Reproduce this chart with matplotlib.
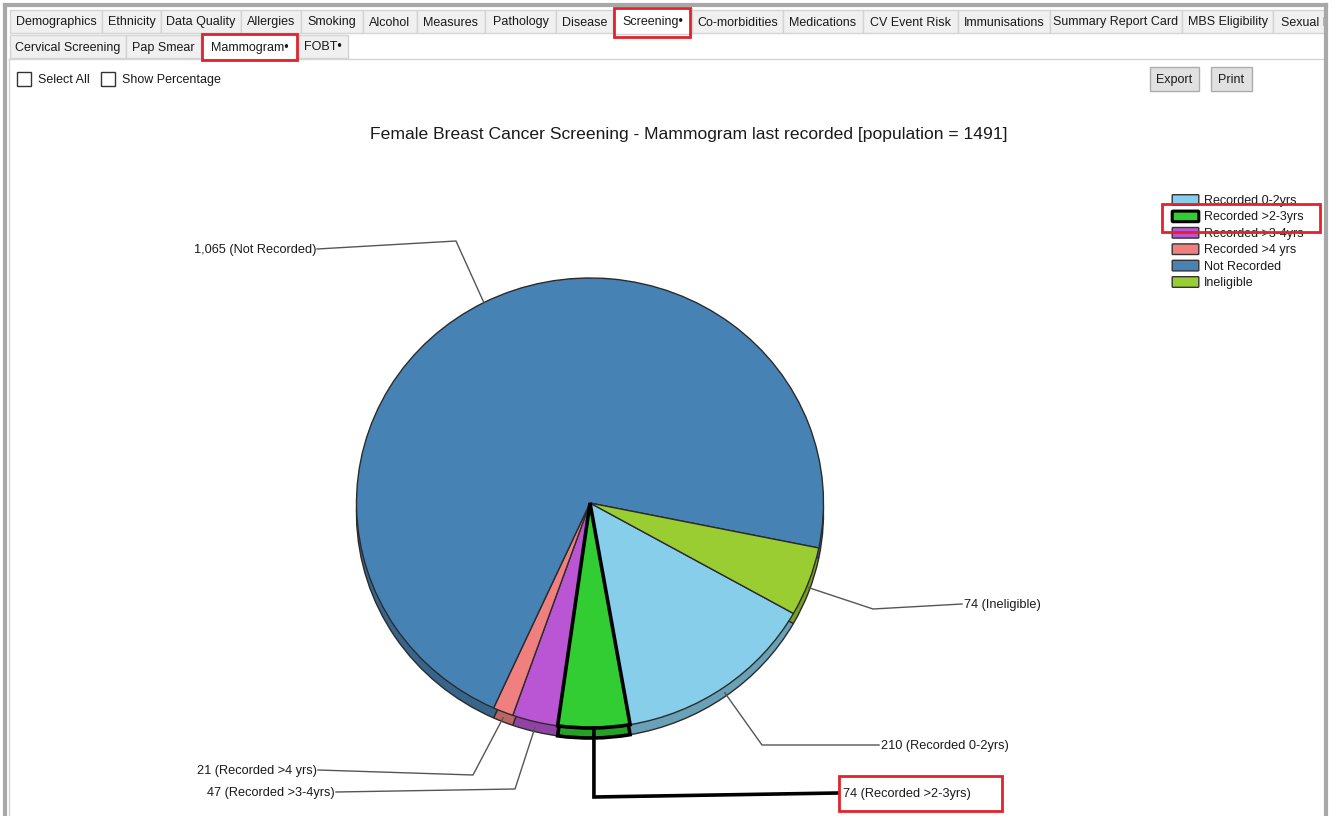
"""
Mammogram screening pie chart, redrawn with its tabbed window frame.
Output: out.png (1338 x 816 px)
"""

import numpy as np
import matplotlib
matplotlib.use('Agg')
import matplotlib.pyplot as plt
import matplotlib.transforms as mtransforms
from matplotlib.patches import Rectangle, FancyBboxPatch
from matplotlib.colors import to_rgb

plt.rcParams['font.family'] = ['Liberation Sans', 'DejaVu Sans']

# ── Data ─────────────────────────────────────────────────────────────────────
categories = ['Recorded 0-2yrs', 'Recorded >2-3yrs', 'Recorded >3-4yrs',
              'Recorded >4 yrs', 'Not Recorded', 'Ineligible']
counts = [210, 74, 47, 21, 1065, 74]
slice_colors = ['#87CEEB', '#32CD32', '#BA55D3', '#F08080', '#4682B4', '#9ACD32']
highlight = 'Recorded >2-3yrs'

row1_tabs = ['Demographics', 'Ethnicity', 'Data Quality', 'Allergies', 'Smoking',
             'Alcohol', 'Measures', 'Pathology', 'Disease', 'Screening\u2022',
             'Co-morbidities', 'Medications', 'CV Event Risk', 'Immunisations',
             'Summary Report Card', 'MBS Eligibility', 'Sexual H']
row2_tabs = ['Cervical Screening', 'Pap Smear', 'Mammogram\u2022', 'FOBT\u2022']

# ── Layout (pixels) ──────────────────────────────────────────────────────────
W, H = 1338, 816
row1_edges = [10, 102, 161, 241, 301, 363, 417, 485, 556, 613, 692, 783, 863,
              958, 1050, 1182, 1273, 1340]
row2_edges = [10, 126, 201, 298, 348]
CX, CY = 590, 503
RX, RY = 233.5, 225
DEPTH = 10
START = 29.4
DY = 1.0          # nudge so text sits optically centred

TEXT = '#1a1a1a'
RED = '#e3222b'
TAB_FILL = '#f0f0f0'
TAB_EDGE = '#d4d4d4'

# leader: elbow point, text anchor, alignment
leader_layout = {
    'Recorded 0-2yrs':  ((762, 745), (879, 745), 'left'),
    'Recorded >2-3yrs': (None,       (841, 793), 'left'),
    'Recorded >3-4yrs': ((515, 789), (336, 792), 'right'),
    'Recorded >4 yrs':  ((473, 775), (318, 770), 'right'),
    'Not Recorded':     ((456, 241), (317, 249), 'right'),
    'Ineligible':       ((873, 609), (962, 604), 'left'),
}

fig = plt.figure(figsize=(W / 100, H / 100), dpi=100)
fig.patch.set_facecolor('white')
ax = fig.add_axes([0, 0, 1, 1])


def darker(c, f=0.78):
    r, g, b = to_rgb(c)
    return (r * f, g * f, b * f)


# ── Pie (3D look: darker copy shifted down, then top face) ───────────────────
shadow, _ = ax.pie(counts, colors=[darker(c) for c in slice_colors],
                   startangle=START, counterclock=True, radius=RX,
                   center=(CX, CY + DEPTH), frame=True,
                   wedgeprops=dict(edgecolor='#2b2b2b', linewidth=1.0))
top, _ = ax.pie(counts, colors=slice_colors, startangle=START,
                counterclock=True, radius=RX, center=(CX, CY), frame=True,
                wedgeprops=dict(edgecolor='#2b2b2b', linewidth=1.0))

for wedges, cy, z in ((shadow, CY + DEPTH, 2), (top, CY, 3)):
    tr = (mtransforms.Affine2D().translate(-CX, -cy).scale(1, RY / RX)
          .translate(CX, cy) + ax.transData)
    for w, name in zip(wedges, categories):
        w.set_transform(tr)
        w.set_zorder(z)
        if name == highlight:
            w.set_edgecolor('black')
            w.set_linewidth(2.6)
            w.set_zorder(z + 0.5)

# ── Leader lines and labels ──────────────────────────────────────────────────
for w, name, n in zip(top, categories, counts):
    t = np.deg2rad((w.theta1 + w.theta2) / 2)
    sx, sy = CX + RX * np.cos(t), CY + RY * np.sin(t)
    elbow, (lx, ly), ha = leader_layout[name]
    label = f'{n:,} ({name})'
    if name == highlight:
        xs, ys = [sx, sx, lx - 3], [sy, 797, ly]
        ax.plot(xs, ys, color='black', lw=2.6, zorder=6,
                solid_joinstyle='miter')
    else:
        if sy > CY:
            sy += DEPTH * 0.6
        xs, ys = [sx, elbow[0], lx], [sy, elbow[1], ly]
        ax.plot(xs, ys, color='#555555', lw=1.0, zorder=6)
    ax.text(lx + (2 if ha == 'left' else -1), ly + DY, label, ha=ha,
            va='center', fontsize=9.2, color=TEXT, zorder=7)

# highlight box around the >2-3yrs label
ax.add_patch(Rectangle((839, 776), 163, 35, fill=False, edgecolor=RED,
                       lw=2, zorder=8))

# ── Title ────────────────────────────────────────────────────────────────────
ax.text(689, 133 + DY,
        f'Female Breast Cancer Screening - Mammogram last recorded '
        f'[population = {sum(counts)}]',
        ha='center', va='center', fontsize=12.6, color=TEXT)

# ── Legend ───────────────────────────────────────────────────────────────────
for i, (name, c) in enumerate(zip(categories, slice_colors)):
    y = 200 + i * 16.4
    hl = name == highlight
    ax.add_patch(FancyBboxPatch((1173, y - 4.5), 25, 9,
                                boxstyle='round,pad=0.8',
                                facecolor=c, edgecolor='black' if hl else '#333333',
                                lw=2.2 if hl else 1.0, zorder=5))
    ax.text(1204, y + DY, name, ha='left', va='center', fontsize=9,
            color=TEXT, zorder=5)
ax.add_patch(Rectangle((1162, 204), 158, 28, fill=False, edgecolor=RED,
                       lw=2, zorder=8))

# ── Window frame and tabs ────────────────────────────────────────────────────
ax.plot([5, 1326], [5, 5], color='#a8a8a8', lw=3, zorder=9)
ax.plot([5, 5], [5, H], color='#a8a8a8', lw=3, zorder=9)
ax.plot([1326, 1326], [5, H], color='#a8a8a8', lw=3, zorder=9)
ax.plot([9, 1326], [59, 59], color=TAB_EDGE, lw=1, zorder=4)
ax.plot([9, 9], [59, H], color=TAB_EDGE, lw=1, zorder=4)


def draw_tabs(names, edges, y0, y1, selected):
    for i, name in enumerate(names):
        x0, x1 = edges[i], edges[i + 1]
        sel = name == selected
        ax.add_patch(Rectangle((x0, y0 - (2 if sel else 0)), x1 - x0,
                               y1 - y0 + (3 if sel else 0),
                               facecolor='white' if sel else TAB_FILL,
                               edgecolor=TAB_EDGE, lw=1, zorder=4))
        ax.text((x0 + x1) / 2, (y0 + y1) / 2 + DY, name, ha='center',
                va='center', fontsize=9, color=TEXT, zorder=5, clip_on=True)


draw_tabs(row1_tabs, row1_edges, 10, 33, 'Screening\u2022')
draw_tabs(row2_tabs, row2_edges, 35, 58, 'Mammogram\u2022')
ax.add_patch(Rectangle((614, 8), 76, 29, fill=False, edgecolor=RED, lw=2,
                       zorder=8))
ax.add_patch(Rectangle((202, 34), 95, 26, fill=False, edgecolor=RED, lw=2,
                       zorder=8))
# cover anything spilling past the right frame
ax.add_patch(Rectangle((1327.5, 0), 20, H, facecolor='white',
                       edgecolor='none', zorder=8.5))

# checkboxes
for x, label in ((17, 'Select All'), (101, 'Show Percentage')):
    ax.add_patch(Rectangle((x, 72), 14, 14, facecolor='white',
                           edgecolor='#333333', lw=1, zorder=5))
    ax.text(x + 21, 79 + DY, label, ha='left', va='center', fontsize=9,
            color=TEXT, zorder=5)

# buttons
for x0, x1, label in ((1150, 1199, 'Export'), (1211, 1252, 'Print')):
    ax.add_patch(Rectangle((x0, 67), x1 - x0, 24, facecolor='#e1e1e1',
                           edgecolor='#adadad', lw=1, zorder=5))
    ax.text((x0 + x1) / 2, 79 + DY, label, ha='center', va='center',
            fontsize=9, color=TEXT, zorder=6)

ax.set_xlim(0, W)
ax.set_ylim(H, 0)
ax.set_aspect('auto')
ax.axis('off')

fig.savefig('out.png', dpi=100, facecolor='white')
